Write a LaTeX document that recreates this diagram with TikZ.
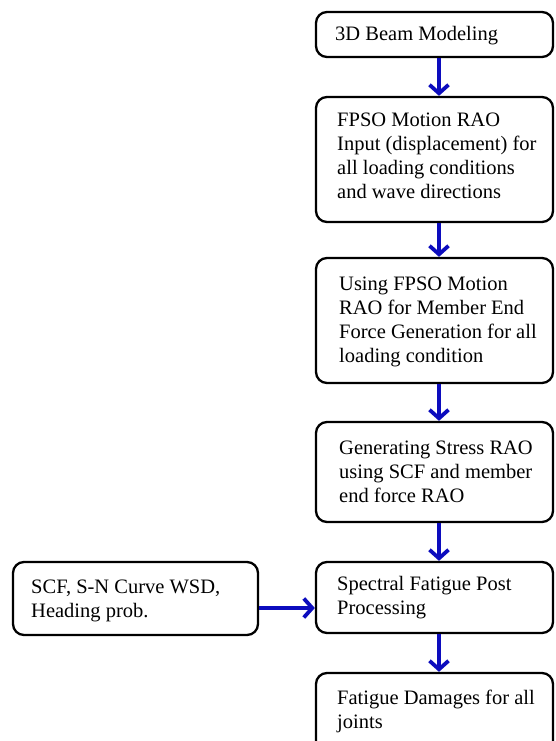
\documentclass[tikz,border=0pt]{standalone}
\usepackage{fontspec}
\setmainfont{Liberation Serif}
\usetikzlibrary{arrows.meta}
\definecolor{arrblue}{RGB}{12,12,190}
\begin{document}
\begin{tikzpicture}[x=1pt,y=-1pt,
  box/.style={draw=black, line width=2.3pt, rounded corners=11pt, inner sep=0pt, minimum width=237pt},
  txt/.style={anchor=west, align=left, inner sep=0pt, font=\fontsize{20.5}{24}\selectfont},
  arr/.style={draw=arrblue, line width=3.8pt, -{Straight Barb[length=8.5pt,width=19pt,line width=3.8pt]}}]
\useasboundingbox (0,0) rectangle (555,741);
\clip (0,0) rectangle (555,741);
% boxes
\node[box, minimum height=45pt]  (b1) at (434.5,34.5) {};
\node[box, minimum height=125pt] (b2) at (434.5,159.5) {};
\node[box, minimum height=125pt] (b3) at (434.5,320.5) {};
\node[box, minimum height=100pt] (b4) at (434.5,472) {};
\node[box, minimum height=71pt]  (b5) at (434.5,597.5) {};
\node[box, minimum height=82pt]  (b6) at (434.5,714) {};
\node[box, minimum width=245pt, minimum height=73pt] (bl) at (135.5,598.5) {};
% texts
\node[txt] (t1) at (335,36) {3D Beam Modeling};
\node[txt] (t2) at (337,156) {FPSO Motion RAO\\Input (displacement) for\\all loading conditions\\and wave directions};
\node[txt] (t3) at (339,322) {Using FPSO Motion\\RAO for Member End\\Force Generation for all\\loading condition};
\node[txt] (t4) at (339,472) {Generating Stress RAO\\using SCF and member\\end force RAO};
\node[txt] (t5) at (337,598) {Spectral Fatigue Post\\Processing};
\node[txt] (t6) at (337,711) {Fatigue Damages for all\\joints};
\node[txt] (tl) at (31,601) {SCF, S-N Curve WSD,\\Heading prob.};
% arrows
\draw[arr] ([xshift=4.5pt]b1.south) -- ([xshift=4.5pt]b2.north);
\draw[arr] ([xshift=4.5pt]b2.south) -- ([xshift=4.5pt]b3.north);
\draw[arr] ([xshift=4.5pt]b3.south) -- ([xshift=4.5pt]b4.north);
\draw[arr] ([xshift=4.5pt]b4.south) -- ([xshift=4.5pt]b5.north);
\draw[arr] ([xshift=4.5pt]b5.south) -- ([xshift=4.5pt]b6.north);
\draw[arr] ([yshift=-9.5pt]bl.east) -- ([yshift=-9.5pt]bl.east -| b5.west);
\end{tikzpicture}
\end{document}
